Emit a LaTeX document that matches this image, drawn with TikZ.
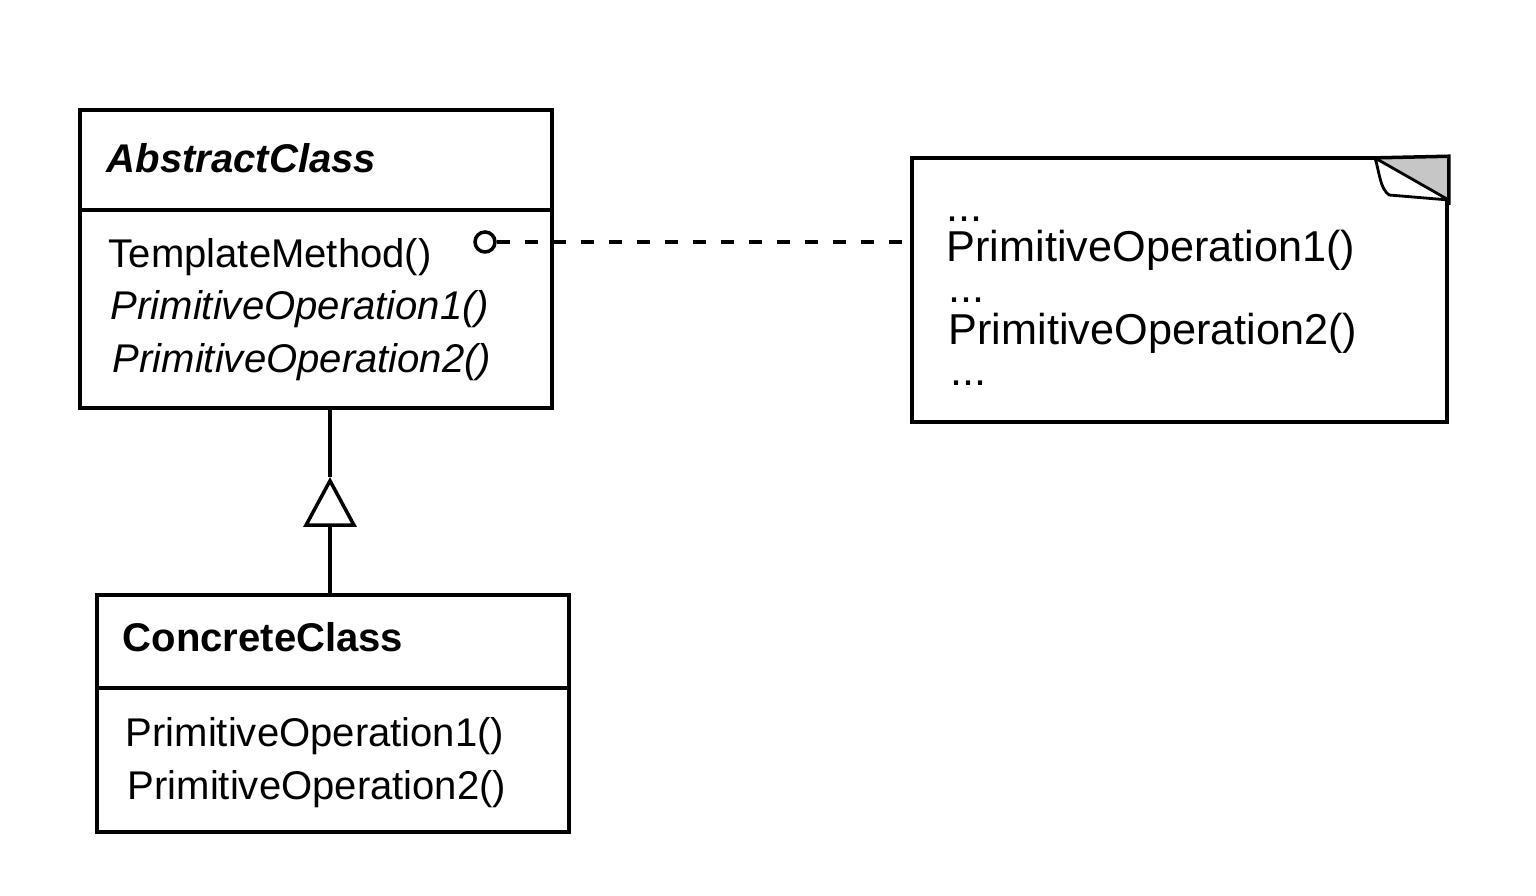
\documentclass[tikz,border=0pt]{standalone}
\usepackage{fontspec}
\setmainfont{Liberation Sans}
\usetikzlibrary{arrows.meta,positioning}
\tikzset{
  classbox/.style={draw, line width=1pt, minimum width=4.72cm, inner sep=0pt},
  member/.style={anchor=base west, inner sep=0pt, font=\fontsize{11.4}{13}\selectfont},
  notetext/.style={anchor=base west, inner sep=0pt, font=\fontsize{12.3}{14}\selectfont},
  dashline/.style={line width=1pt, dash pattern=on 0.13cm off 0.15cm},
}
\begin{document}
\begin{tikzpicture}
    \useasboundingbox (0,0) rectangle (15.36,-8.96);
    \node[classbox, minimum height=2.98cm] (abstract) at (3.16,-2.59) {};% AbstractClass box
    \node[classbox, minimum height=2.37cm] (concrete) at (3.33,-7.135) {};% ConcreteClass box
    \draw [line width=1pt] (abstract.west |- 0,-2.10) -- (abstract.east |- 0,-2.10);
    \draw [line width=1pt] (concrete.west |- 0,-6.88) -- (concrete.east |- 0,-6.88);
    \node[member] (abstractname) at (1.06,-1.73) {\bfseries\itshape AbstractClass};
    \node[member] (template) at (1.08,-2.68) {TemplateMethod()};
    \node[member] (absopone) at (1.10,-3.20) {\itshape PrimitiveOperation1()};
    \node[member] (absoptwo) at (1.12,-3.73) {\itshape PrimitiveOperation2()};
    \node[member] (concretename) at (1.22,-6.52) {\bfseries ConcreteClass};
    \node[member] (conopone) at (1.25,-7.47) {PrimitiveOperation1()};
    \node[member] (conoptwo) at (1.27,-8.00) {PrimitiveOperation2()};
    % note with folded corner
    \node[draw, line width=1pt, minimum width=5.35cm, minimum height=2.64cm, inner sep=0pt] (note) at (11.795,-2.90) {};
    \fill [gray!45] (13.75,-1.58) -- (note.north east) -- (note.east |- 0,-2.00) -- cycle;
    \draw [line width=1pt] (13.70,-1.58) -- (note.north east) -- (note.east |- 0,-2.05);
    \draw [line width=0.8pt, line join=round, fill=white] (13.75,-1.58) .. controls (13.80,-1.75) and (13.80,-1.88) .. (13.89,-1.95) -- (note.east |- 0,-2.00) -- cycle;
    \node[notetext] (dotsone) at (9.46,-2.22) {...};
    \node[notetext] (noteopone) at (9.46,-2.62) {PrimitiveOperation1()};
    \node[notetext] (dotstwo) at (9.48,-3.03) {...};
    \node[notetext] (noteoptwo) at (9.48,-3.45) {PrimitiveOperation2()};
    \node[notetext] (dotsthree) at (9.50,-3.86) {...};
    % connectors
    \node[draw, circle, line width=1pt, minimum size=0.2cm, inner sep=0pt] (hook) at (4.85,-2.42) {};
    \draw [dashline] (hook.east) -- (hook -| note.west);
    \coordinate (tip) at (3.30,-4.77);
    \draw [line width=1pt, -{Triangle[open, length=0.50cm, width=0.53cm, line width=1pt]}] (concrete.north -| tip) -- (tip);
    \draw [line width=1pt] (tip) -- (abstract.south -| tip);
\end{tikzpicture}
\end{document}
